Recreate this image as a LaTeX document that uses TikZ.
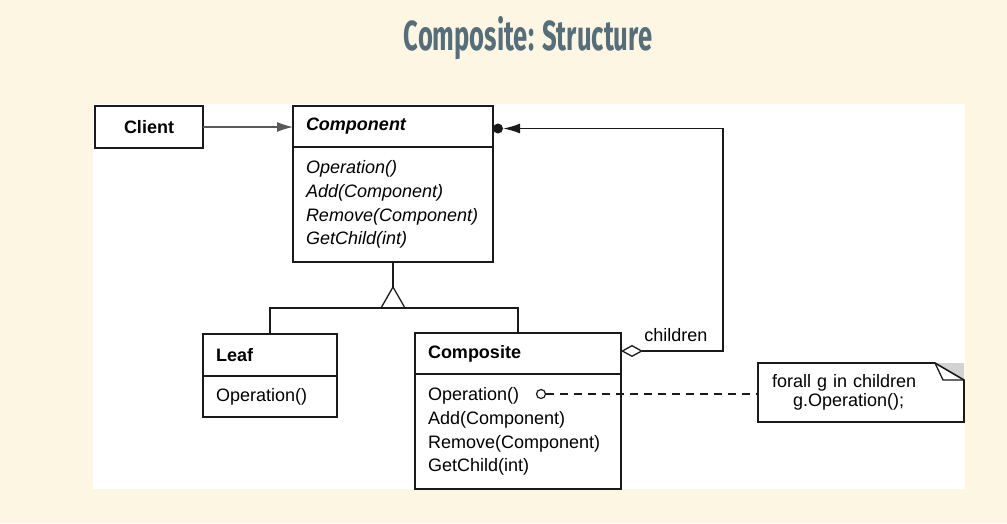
\documentclass[tikz,border=0pt]{standalone}
\usepackage{fontspec}
\setmainfont{Liberation Sans}
\newfontfamily\titlefont[FakeStretch=0.61]{Fira Sans}
\usepackage{xcolor}
\usetikzlibrary{positioning,calc,arrows.meta}
\definecolor{paper}{HTML}{FDF6E3}
\definecolor{slate}{HTML}{546E7A}
\definecolor{ink}{HTML}{1A1A1A}

\begin{document}
\begin{tikzpicture}[
    x=1pt, y=-1pt,
    classhead/.style={draw=ink, line width=1.6pt, outer sep=0pt, inner xsep=13pt, inner ysep=0pt,
        minimum height=41pt, align=left, font=\fontsize{18}{24}\selectfont\bfseries},
    classbody/.style={draw=ink, line width=1.6pt, outer sep=0pt, inner xsep=13pt, inner ysep=0pt,
        align=left, font=\fontsize{18}{23.7}\selectfont},
    notebox/.style={outer sep=0pt, inner xsep=14pt, inner ysep=0pt, align=left,
        font=\fontsize{18}{19}\selectfont},
    conn/.style={draw=ink, line width=1.3pt},
    hubdot/.style={circle, fill=ink, inner sep=0pt, minimum size=10pt},
    opdot/.style={circle, draw=ink, fill=white, line width=1.2pt, inner sep=0pt, minimum size=9pt}
]
    \useasboundingbox (0,0) rectangle (1007,523);
    \fill[paper] (0,0) rectangle (1007,523);
    \fill[white] (93,104) rectangle (965,489);

    \node[font=\titlefont\bfseries\fontsize{42}{42}\selectfont, text=slate] (title) at (528,38) {Composite: Structure};

    \node[classhead, align=center, text width=82pt, minimum height=42pt, anchor=north west] (client) at (95,106) {Client};

    \node[classhead, text width=174pt, anchor=north west, font=\fontsize{18}{24}\selectfont\bfseries\itshape] (cpnhead) at (293,106) {Component};
    \node[classbody, text width=174pt, minimum height=115pt, below=0pt of cpnhead, font=\fontsize{18}{23.7}\selectfont\itshape] (cpnbody)
        {Operation()\\Add(Component)\\Remove(Component)\\GetChild(int)};

    \node[classhead, text width=108pt, minimum height=42pt, anchor=north west] (leafhead) at (203,334) {Leaf};
    \node[classbody, text width=108pt, minimum height=41pt, below=0pt of leafhead] (leafbody) {Operation()};

    \node[classhead, text width=180pt, anchor=north west] (cmphead) at (415,333) {Composite};
    \node[classbody, text width=180pt, minimum height=115pt, below=0pt of cmphead] (cmpbody)
        {Operation()\\Add(Component)\\Remove(Component)\\GetChild(int)};

    \node[notebox, text width=178pt, minimum height=59pt] (note) at (861,392.5)
        {forall g in children\\\hspace*{21pt}g.Operation();};
    \fill[gray!35] ([xshift=-29pt]note.north east) -- (note.north east) -- ([yshift=-17pt]note.north east) -- cycle;
    \draw[conn, line width=1.6pt] (note.north west) -- ([xshift=-29pt]note.north east) -- ([yshift=-17pt]note.north east)
        -- (note.south east) -- (note.south west) -- cycle;
    \draw[conn] ([xshift=-29pt]note.north east) -- ([xshift=-21pt,yshift=-17pt]note.north east) -- ([yshift=-17pt]note.north east);

    \node[font=\fontsize{18}{18}\selectfont] (children) at (676,335) {children};

    \draw[conn, draw=black!65, -{Latex[length=16pt,width=10pt]}] (client.east) -- (client.east -| cpnhead.west);

    \node[hubdot] (hub) at ([xshift=5pt,yshift=-2pt]cpnhead.east) {};
    \draw[conn, {Diamond[open,fill=white,length=22pt,width=12pt]}-{Latex[length=17pt,width=10pt]}]
        ([yshift=2.5pt]cmphead.east) -- ++(102,0) |- (hub);

    \coordinate (apex) at (cpnbody.south |- 0,287);
    \draw[conn] (cpnbody.south) -- (apex);
    \draw[conn, fill=white] (apex) -- ++(-12,21) -- ++(24,0) -- cycle;
    \draw[conn] (leafhead.north) -- ++(0,-26) -| (cmphead.north);

    \node[opdot] (opc) at (541,394) {};
    \draw[conn, dash pattern=on 8pt off 6pt] (opc) -- (opc -| note.west);
\end{tikzpicture}
\end{document}
